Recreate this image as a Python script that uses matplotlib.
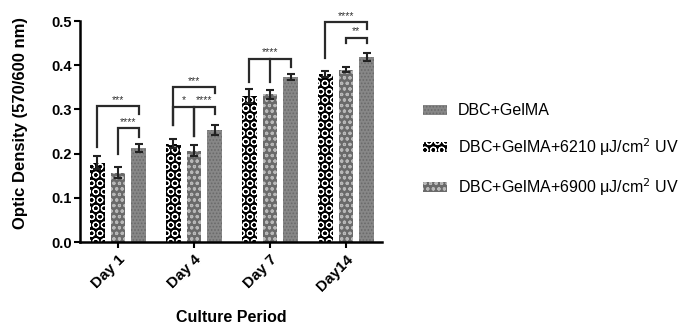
import numpy as np
import matplotlib
matplotlib.use('Agg')
import matplotlib.pyplot as plt
from matplotlib.patches import Patch

plt.rcParams['font.family'] = ['Liberation Sans', 'DejaVu Sans']
plt.rcParams['hatch.linewidth'] = 0.8

days = ['Day 1', 'Day 4', 'Day 7', 'Day14']
series = ['DBC+GelMA+6210 μJ/cm$^2$ UV', 'DBC+GelMA+6900 μJ/cm$^2$ UV', 'DBC+GelMA']
means_6210 = [0.180, 0.223, 0.330, 0.381]
means_6900 = [0.157, 0.207, 0.334, 0.390]
means_gelma = [0.213, 0.254, 0.374, 0.418]
err_6210 = [0.015, 0.010, 0.016, 0.007]
err_6900 = [0.013, 0.012, 0.010, 0.005]
err_gelma = [0.009, 0.011, 0.007, 0.009]

# brackets: (day, first bar, last bar, top, left leg bottom, right leg bottom, label)
brackets = [
    (0, 0, 2, 0.308, 0.216, 0.290, '***'),
    (0, 1, 2, 0.258, 0.200, 0.238, '****'),
    (1, 0, 2, 0.351, 0.265, 0.337, '***'),
    (1, 0, 1, 0.306, 0.265, 0.240, '*'),
    (1, 1, 2, 0.306, 0.240, 0.290, '****'),
    (2, 0, 2, 0.415, 0.363, 0.397, '****'),
    (3, 0, 2, 0.497, 0.416, 0.483, '****'),
    (3, 1, 2, 0.462, 0.450, 0.450, '**'),
]

fig = plt.figure(figsize=(6.78, 3.29), dpi=100)
ax = fig.add_axes([0.118, 0.264, 0.445, 0.672])

x = np.arange(len(days))
offs = [-0.27, 0, 0.27]
w = 0.19
styles = [
    dict(color='black', edgecolor='white', hatch='OO'),
    dict(color='#6a6a6a', edgecolor='#b8b8b8', hatch='ooo'),
    dict(color='#878787', edgecolor='#6a6a6a', hatch='.....'),
]
vals = [means_6210, means_6900, means_gelma]
errs = [err_6210, err_6900, err_gelma]
for i in range(3):
    ax.bar(x + offs[i], vals[i], w, facecolor=styles[i]['color'],
           edgecolor=styles[i]['edgecolor'], hatch=styles[i]['hatch'], linewidth=0)
    ax.errorbar(x + offs[i], vals[i], yerr=errs[i], fmt='none', ecolor='#222222',
                elinewidth=1.5, capsize=3, capthick=1.5)

for d, b1, b2, top, l1, l2, lab in brackets:
    x1 = d + offs[b1]
    x2 = d + offs[b2]
    ax.plot([x1, x1, x2, x2], [l1, top, top, l2], color='#2a2a2a', lw=1.6,
            clip_on=False, solid_joinstyle='miter')
    ax.text((x1 + x2) / 2, top + 0.003, lab, ha='center', va='bottom', fontsize=7.5,
            color='#333333')

# Day 7 middle leg
ax.plot([2 + offs[1], 2 + offs[1]], [0.363, 0.415], color='#2a2a2a', lw=1.6)

ax.set_xlim(-0.5, 3.47)
ax.set_ylim(0, 0.5)
ax.set_yticks([0.0, 0.1, 0.2, 0.3, 0.4, 0.5])
ax.set_yticklabels(['0.0', '0.1', '0.2', '0.3', '0.4', '0.5'], fontsize=10.5, fontweight='bold')
ax.set_xticks(x)
ax.set_xticklabels(days, rotation=45, ha='right', rotation_mode='anchor',
                   fontsize=11, fontweight='bold')
ax.spines['top'].set_visible(False)
ax.spines['right'].set_visible(False)
ax.spines['left'].set_linewidth(1.8)
ax.spines['bottom'].set_linewidth(1.8)
ax.tick_params(width=1.5, length=4)
ax.tick_params(axis='y', pad=2)
ax.set_ylabel('Optic Density (570/600 nm)', fontsize=12, fontweight='bold')
ax.yaxis.set_label_coords(-0.172, 0.54)
ax.set_xlabel('Culture Period', fontsize=11.5, fontweight='bold', va='center')
ax.xaxis.set_label_coords(0.5, -0.34)

handles = [
    Patch(facecolor=styles[2]['color'], edgecolor=styles[2]['edgecolor'], hatch=styles[2]['hatch'], linewidth=0),
    Patch(facecolor=styles[0]['color'], edgecolor=styles[0]['edgecolor'], hatch=styles[0]['hatch'], linewidth=0),
    Patch(facecolor=styles[1]['color'], edgecolor=styles[1]['edgecolor'], hatch=styles[1]['hatch'], linewidth=0),
]
labels = [series[2], series[0], series[1]]
fig.legend(handles, labels, loc='upper left', bbox_to_anchor=(0.615, 0.705), frameon=False,
           fontsize=11.5, handlelength=1.5, handleheight=0.6, labelspacing=1.12,
           handletextpad=0.65, borderaxespad=0)

fig.savefig('out.png', dpi=100)
